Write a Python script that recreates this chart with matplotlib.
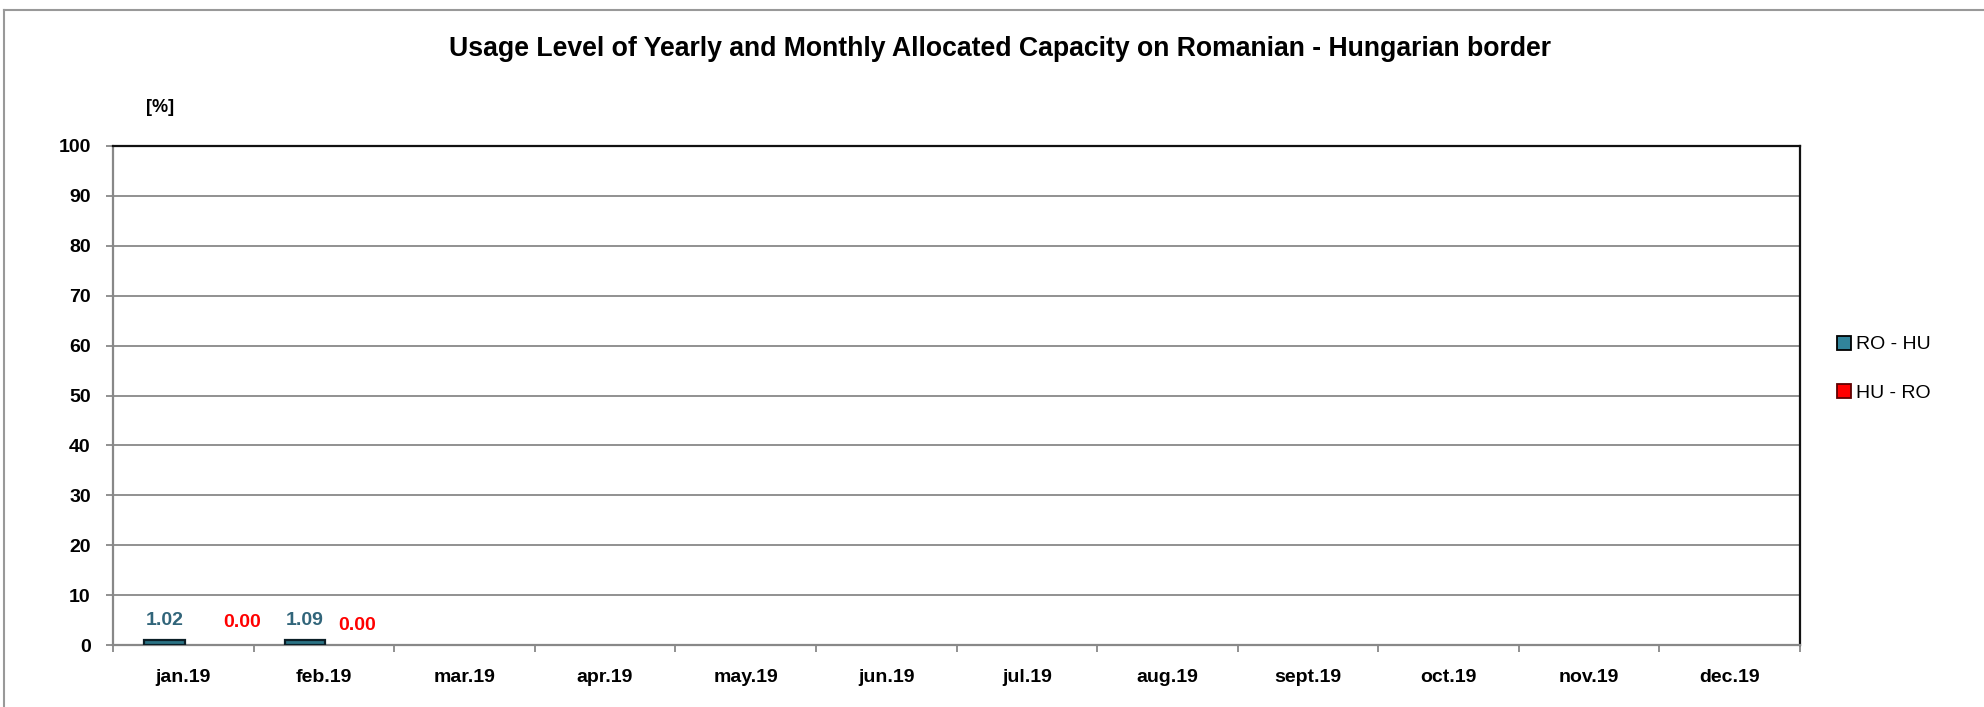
import matplotlib
matplotlib.use("Agg")
import matplotlib.pyplot as plt
from matplotlib.lines import Line2D
import numpy as np

months = ["jan.19", "feb.19", "mar.19", "apr.19", "may.19", "jun.19",
          "jul.19", "aug.19", "sept.19", "oct.19", "nov.19", "dec.19"]
ro_hu = [1.02, 1.09]
hu_ro = [0.00, 0.00]
series_names = ["RO - HU", "HU - RO"]
yticks = [0, 10, 20, 30, 40, 50, 60, 70, 80, 90, 100]

W, H = 1984, 707
fig = plt.figure(figsize=(W / 100, H / 100), dpi=100)
fig.patch.set_facecolor("white")

# axes box in pixel coordinates
L, R, T, B = 113, 1800, 146, 645
ax = fig.add_axes([L / W, 1 - B / H, (R - L) / W, (B - T) / H])

x = np.arange(len(months))
bw = 0.29
teal = "#2B7385"
red = "#FF0000"
xr = x[:len(ro_hu)] - 0.135
xh = x[:len(hu_ro)] + 0.155
ax.bar(xr, ro_hu, width=bw, color=teal, edgecolor="#0B1E26", linewidth=1.6, zorder=3)
ax.bar(xh, hu_ro, width=bw, color=red, edgecolor="#400000", linewidth=0, zorder=3)

font = "Liberation Sans"
label_dx = [0.42, 0.24]
for xi, v in zip(xr, ro_hu):
    ax.text(xi, v + 2.2, f"{v:.2f}", ha="center", va="bottom", color="#31657A",
            fontsize=14, fontweight="bold", family=font, zorder=4)
for i, (xi, v) in enumerate(zip(x[:len(hu_ro)], hu_ro)):
    ax.text(xi + label_dx[i], v + (4.6 if i == 0 else 3.9), f"{v:.2f}", ha="center", va="center",
            color=red, fontsize=14, fontweight="bold", family=font, zorder=4)

ax.set_xlim(-0.5, len(months) - 0.5)
ax.set_ylim(0, 100)
ax.set_yticks(yticks)
ax.set_yticklabels([str(t) for t in yticks], fontsize=14, fontweight="bold", family=font)
ax.set_xticks(x)
ax.set_xticklabels(months, fontsize=14, fontweight="bold", family=font)
ax.set_xticks(np.arange(-0.5, len(months)), minor=True)
ax.tick_params(axis="x", which="major", length=0, pad=17)
ax.tick_params(axis="x", which="minor", length=5, color="#888888", width=1.3)
ax.tick_params(axis="y", length=5, color="#888888", width=1.3, pad=11)

ax.grid(axis="y", color="#888888", linewidth=1.3, zorder=0)
ax.set_axisbelow(True)
for s in ("left", "bottom"):
    ax.spines[s].set_color("#888888")
    ax.spines[s].set_linewidth(1.6)
for s in ("top", "right"):
    ax.spines[s].set_color("#111111")
    ax.spines[s].set_linewidth(1.6)

fig.text(1000 / W, 1 - 55.5 / H,
         "Usage Level of Yearly and Monthly Allocated Capacity on Romanian - Hungarian border",
         ha="center", va="baseline", fontsize=19.2, fontweight="bold", family=font)
fig.text(160 / W, 1 - 108 / H, "[%]", ha="center", va="center", fontsize=13,
         fontweight="bold", family=font)

# legend
handles = [
    Line2D([], [], marker="s", linestyle="none", markersize=10, markerfacecolor="#31849B",
           markeredgecolor="black", markeredgewidth=1.3),
    Line2D([], [], marker="s", linestyle="none", markersize=10, markerfacecolor=red,
           markeredgecolor="#600000", markeredgewidth=1.3),
]
leg = fig.legend(handles, series_names, loc="upper left",
                 bbox_to_anchor=(1826 / W, 1 - 328 / H), frameon=False,
                 prop={"family": font, "size": 14}, handletextpad=0.15,
                 labelspacing=1.6, handlelength=1.0, borderaxespad=0)

# outer border (left and top edges visible)
fig.add_artist(Line2D([4 / W, 4 / W], [0, 1 - 10 / H], transform=fig.transFigure,
                      color="#999999", linewidth=1.5))
fig.add_artist(Line2D([4 / W, 1], [1 - 10 / H, 1 - 10 / H], transform=fig.transFigure,
                      color="#999999", linewidth=1.5))

fig.savefig("out.png", dpi=100)
